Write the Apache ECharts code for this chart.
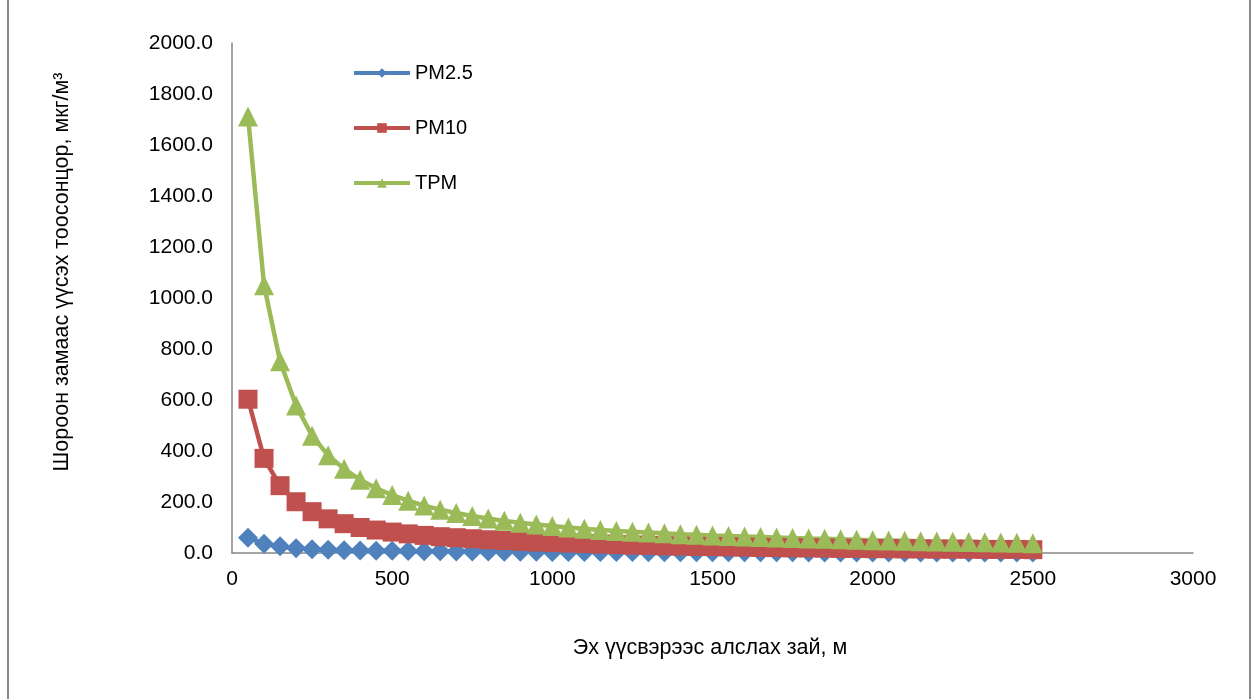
<!DOCTYPE html>
<html>
<head>
<meta charset="utf-8">
<script src="https://cdn.jsdelivr.net/npm/echarts@6/dist/echarts.min.js"></script>
<style>
html,body{margin:0;padding:0;background:#fff;}
#chart{position:absolute;left:0;top:0;width:1258px;height:699px;}
#frame{position:absolute;left:7px;top:-4px;width:1244px;height:710px;border:2px solid #8a8a8a;pointer-events:none;box-sizing:border-box;}
</style>
</head>
<body>
<div id="chart"></div>
<div id="frame"></div>
<script>
const distances = [50,100,150,200,250,300,350,400,450,500,550,600,650,700,750,800,850,900,950,1000,
  1050,1100,1150,1200,1250,1300,1350,1400,1450,1500,1550,1600,1650,1700,1750,1800,1850,1900,1950,2000,
  2050,2100,2150,2200,2250,2300,2350,2400,2450,2500];
const pm25 = [60,36,26,19,15,13,11,10,9,8.5,7.8,7.2,6.7,6.2,5.8,5.5,5.2,4.9,4.6,4.4,
  4.2,4.0,3.8,3.7,3.5,3.4,3.3,3.1,3.0,2.9,2.8,2.7,2.7,2.6,2.5,2.4,2.4,2.3,2.2,2.2,
  2.1,2.1,2.0,2.0,1.9,1.9,1.8,1.8,1.7,1.7];
const pm10 = [603,371,264,201,162,134,115,100,90,82,75,69,64,60,56,52,49,46,43,41,
  39,37,35,33,31,30,28,27,26,25,24,23,22,21,20,20,19,18,18,17,
  17,16,16,15,15,15,14,14,14,13];
const tpm = [1712,1050,752,578,460,383,330,287,254,227,205,186,170,157,145,135,126,119,112,106,
  100,95,90,86,83,80,77,74,72,69,67,65,63,61,59,57,56,54,52,50,
  49,48,46,45,44,43,42,41,40,38];
const seriesNames = ['PM2.5','PM10','TPM'];
const xTicks = [0,500,1000,1500,2000,2500,3000];
const yTicks = [0,200,400,600,800,1000,1200,1400,1600,1800,2000];
const xTitle = 'Эх үүсвэрээс алслах зай, м';
const yTitle = 'Шороон замаас үүсэх тоосонцор, мкг/м³';

const FONT = '"Liberation Sans", Arial, sans-serif';
const pair = arr => distances.map((d,i)=>[d,arr[i]]);

const chart = echarts.init(document.getElementById('chart'));
chart.setOption({
  animation:false,
  backgroundColor:'#fff',
  textStyle:{fontFamily:FONT},
  grid:{left:232,right:65,top:43,bottom:146,containLabel:false},
  legend:{
    orient:'vertical', left:347, top:58, itemWidth:56, itemHeight:12, itemGap:35,
    lineStyle:{width:4},
    textStyle:{fontSize:20,color:'#000',fontFamily:FONT},
    data:seriesNames
  },
  xAxis:{
    type:'value', min:xTicks[0], max:xTicks[xTicks.length-1], interval:500,
    axisLine:{show:true,lineStyle:{color:'#878787',width:1.5}},
    axisTick:{show:false}, splitLine:{show:false},
    axisLabel:{fontSize:21,color:'#000',margin:16,fontFamily:FONT,formatter:v=>String(v)}
  },
  yAxis:{
    type:'value', min:yTicks[0], max:yTicks[yTicks.length-1], interval:200,
    axisLine:{show:true,lineStyle:{color:'#878787',width:1.5}},
    axisTick:{show:false}, splitLine:{show:false},
    axisLabel:{fontSize:21,color:'#000',margin:19,fontFamily:FONT,formatter:v=>v.toFixed(1)}
  },
  graphic:[
    {type:'text',x:710,y:648,
     style:{text:xTitle,fontSize:21.5,fill:'#000',fontFamily:FONT,align:'center',verticalAlign:'middle'}},
    {type:'text',x:62,y:272,rotation:Math.PI/2,
     style:{text:yTitle,fontSize:21.5,fill:'#000',fontFamily:FONT,align:'center',verticalAlign:'middle'}}
  ],
  series:[
    {name:seriesNames[0],type:'line',data:pair(pm25),symbol:'diamond',symbolSize:20,
     color:'#4F81BD',lineStyle:{width:4.5,color:'#4F81BD'},itemStyle:{color:'#4F81BD'}},
    {name:seriesNames[1],type:'line',data:pair(pm10),symbol:'rect',symbolSize:19,
     color:'#C0504D',lineStyle:{width:4.5,color:'#C0504D'},itemStyle:{color:'#C0504D'}},
    {name:seriesNames[2],type:'line',data:pair(tpm),symbol:'triangle',symbolSize:20,
     color:'#9BBB59',lineStyle:{width:4.5,color:'#9BBB59'},itemStyle:{color:'#9BBB59'}}
  ]
});
</script>
</body>
</html>
